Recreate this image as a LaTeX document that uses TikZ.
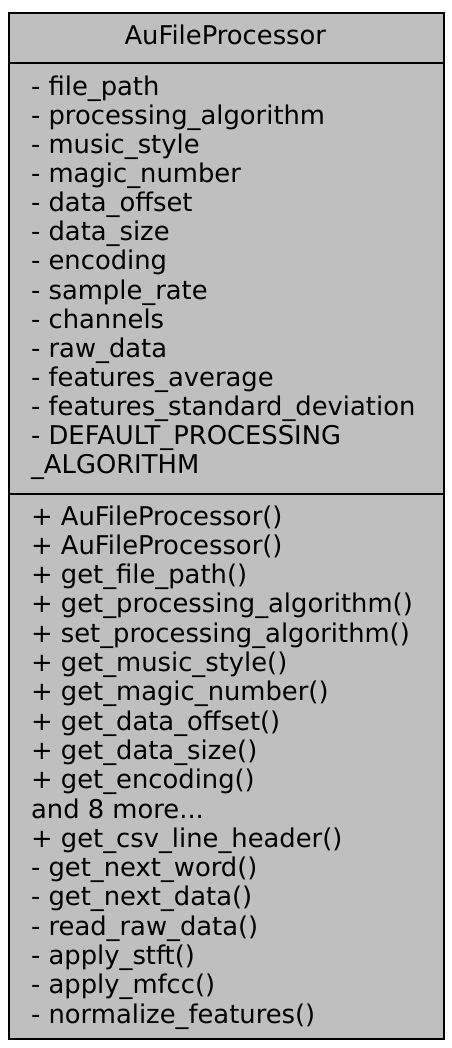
\documentclass[tikz,border=0pt]{standalone}
\usepackage{fontspec}
\setmainfont{DejaVu Sans}
\definecolor{boxgray}{RGB}{191,191,191}
\newcommand\andmoretext{and 8 more...}
\begin{document}
\begin{tikzpicture}[x=1bp,y=-1bp,
  part/.style={draw=black,fill=boxgray,line width=2.4bp,inner sep=0pt,anchor=north west,minimum width=435bp},
  member/.style={inner sep=0pt,anchor=base west,font=\fontsize{25.8bp}{29bp}\selectfont}]
\useasboundingbox (0,0) rectangle (452,1048);
\node[part,minimum height=50bp] (title) at (8,12) {};
\node[part,minimum height=431bp] (attrs) at (8,62) {};
\node[part,minimum height=545bp] (meths) at (8,493) {};
\node[member,anchor=base] (name) at (225.3,44) {AuFileProcessor};
\foreach \t [count=\i] in {{- file\_path},{- processing\_algorithm},{- music\_style},{- magic\_number},{- data\_offset},{- data\_size},{- encoding},{- sample\_rate},{- channels},{- raw\_data},{- features\_average},{- features\_standard\_deviation},{- DEFAULT\_PROCESSING},{\_ALGORITHM}}
  \node[member] (a\i) at (30.9,{95+(\i-1)*29.15}) {\t};
\foreach \t [count=\i] in {{+ AuFileProcessor()},{+ AuFileProcessor()},{+ get\_file\_path()},{+ get\_processing\_algorithm()},{+ set\_processing\_algorithm()},{+ get\_music\_style()},{+ get\_magic\_number()},{+ get\_data\_offset()},{+ get\_data\_size()},{+ get\_encoding()},{\andmoretext},{+ get\_csv\_line\_header()},{- get\_next\_word()},{- get\_next\_data()},{- read\_raw\_data()},{- apply\_stft()},{- apply\_mfcc()},{- normalize\_features()}}
  \node[member] (m\i) at (30.9,{525+(\i-1)*29.3}) {\t};
\end{tikzpicture}
\end{document}
